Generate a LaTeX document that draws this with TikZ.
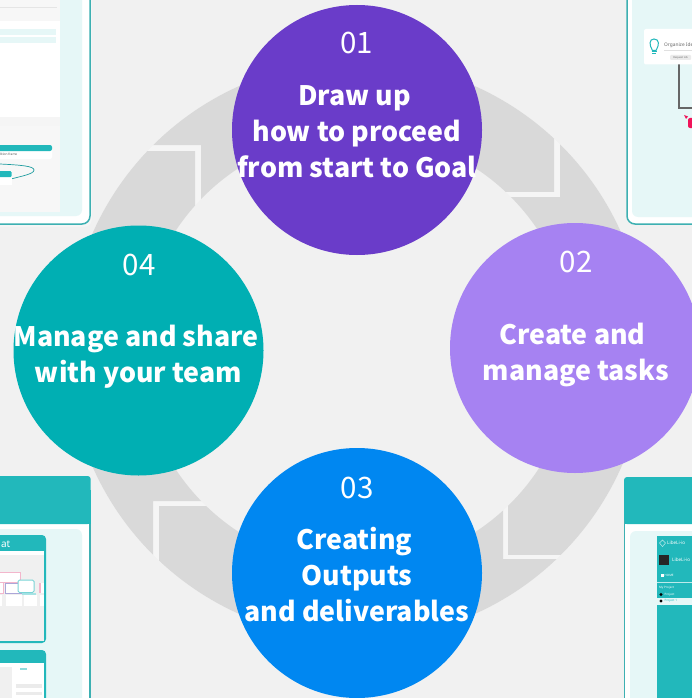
\documentclass[tikz,border=0pt]{standalone}
\usepackage{fontspec}
\setmainfont{Noto Sans CJK JP}
\newfontfamily\tinyfont{Noto Sans}
\definecolor{bgc}{HTML}{F1F1F1}
\definecolor{ringc}{HTML}{D9D9D9}
\definecolor{gapc}{HTML}{F5F5F5}
\definecolor{tealb}{HTML}{22B8BB}
\definecolor{tealbd}{HTML}{3DB0B2}
\definecolor{tealp}{HTML}{E6F7F7}
\definecolor{purp}{HTML}{6A3CC9}
\definecolor{lilac}{HTML}{A682F2}
\definecolor{bluec}{HTML}{0087F1}
\definecolor{greenc}{HTML}{00AFB3}
\definecolor{redc}{HTML}{F0145A}
\definecolor{pinkl}{HTML}{F3B6CC}
\definecolor{violl}{HTML}{ACA6D8}
\newcommand{\ringfill}[2]{\begin{scope}\clip #2;\fill[#1,even odd rule] (357,350) circle[radius=289] (357,350) circle[radius=217];\end{scope}}
\newcommand{\nudge}{\rule{5pt}{0pt}}
\tikzset{
  x=1pt,y=-1pt,
  bubble/.style={circle,minimum size=250pt,inner sep=0pt},
  numlabel/.style={text=white,font=\fontsize{29.5}{30}\selectfont,inner sep=0pt},
  title/.style={text=white,align=center,inner sep=0pt,font=\fontsize{26.8}{36}\selectfont\bfseries},
  small/.style={inner sep=0pt,font=\tinyfont\fontsize{3.2}{4}\selectfont},
}
\begin{document}
\begin{tikzpicture}
\useasboundingbox (0,0) rectangle (692,698);
\clip (0,0) rectangle (692,698);
\fill[bgc] (0,0) rectangle (692,698);
% ---- top-left card
\fill[black!4,rounded corners=8pt] (-20,-20) rectangle (92,227);
\filldraw[fill=white,draw=tealbd,line width=1.5pt,rounded corners=8pt] (-20,-20) rectangle (90,224);
\fill[tealp,rounded corners=6pt] (-20,-20) rectangle (82,216);
\fill[white!97!black] (-20,-20) rectangle (60,212);
\draw[black!10,line width=.5pt] (0,7) -- (57,7);
\fill[white] (-20,21) rectangle (60,117);
\fill[tealp] (-20,29) rectangle (56,35);
\fill[tealp] (-20,37) rectangle (56,43);
\fill[white!96!black] (-20,117) rectangle (60,126);
\fill[white,rounded corners=2pt] (-20,145) rectangle (52,159);
\fill[tealb,rounded corners=2pt] (-20,145) rectangle (52,151);
\node[small,anchor=east,text=black!65] (tlt) at (17.5,154.5) {dition frame};
\draw[tealb!85!black,line width=.7pt] (0,164) .. controls (20,165) and (34,166) .. (34,170) .. controls (34,174) and (22,176) .. (11,179);
\fill[white] (-20,171) rectangle (11.5,185);
\fill[tealb,rounded corners=1pt] (-20,171) rectangle (11.5,177);
% ---- top-right card
\filldraw[fill=white,draw=tealbd,line width=1.5pt,rounded corners=8pt] (627,-20) rectangle (720,224);
\fill[tealp,rounded corners=6pt] (632,-20) rectangle (720,217);
\draw[black!60,line width=1.6pt] (679,60) -- (679,108) -- (700,108);
\fill[white,rounded corners=2pt] (644,29) rectangle (720,64.5);
\node[inner sep=0pt,text=black!60,font=\tinyfont\bfseries\fontsize{4.8}{6}\selectfont,anchor=west] (org) at (664,45) {Organize Ide};
\draw[black!12,line width=.4pt] (664,50) -- (692,50);
\fill[black!8,rounded corners=1pt] (670,55) rectangle (691,60);
\node[small,text=black!60,font=\tinyfont\fontsize{2.6}{3}\selectfont] (req) at (680.5,57.5) {Request Lib};
\draw[tealb,line width=1pt] (652.5,50.5) .. controls (649,45) and (649,39) .. (654,39) .. controls (659.5,39) and (659.5,45) .. (656,50.5) -- cycle;
\draw[tealb,line width=1pt] (651.7,52) -- (656.7,52);
\fill[tealb] (652.3,53) rectangle (656,54.5);
\fill[redc] (684,115) -- (688,116.5) -- (686,119) -- cycle;
\fill[redc,rounded corners=2pt] (688,118) rectangle (698,128);
% ---- bottom-left card
\fill[white,rounded corners=3pt] (-20,476) rectangle (90,720);
\draw[tealbd,line width=1.5pt] (90,520) -- (90,720);
\fill[tealb,rounded corners=3pt] (-20,476) rectangle (90.7,524);
\fill[tealb] (-20,490) rectangle (90.7,523.5);
\fill[tealp,rounded corners=6pt] (-20,529) rectangle (82,720);
\fill[tealb,rounded corners=4pt] (-20,535) rectangle (46,643);
\fill[black!6] (-20,551) rectangle (44,641);
\fill[white] (-20,551) rectangle (44,555);
\node[inner sep=0pt,text=white,anchor=east,font=\tinyfont\bfseries\fontsize{10}{10}\selectfont] (fmt) at (10.5,544) {at};
\filldraw[fill=white,draw=pinkl,line width=.6pt] (-20,572) rectangle (20,582);
\filldraw[fill=white,draw=pinkl,line width=.6pt] (-20,582) rectangle (3,593);
\filldraw[fill=white,draw=violl,line width=.8pt] (5,583) rectangle (22,593);
\fill[tealb!40] (22,593) rectangle (36,595);
\filldraw[fill=white,draw=tealb!60,line width=1pt,rounded corners=1.5pt] (18,580) rectangle (34,592.5);
\fill[pinkl] (39,583) rectangle (40.5,593);
\fill[white] (41,583) rectangle (44,593);
\foreach \a/\b in {-10/2,6/22,24/36.5,40/44}{\fill[white] (\a,595) rectangle (\b,606);}
\fill[tealb,rounded corners=4pt] (-20,650) rectangle (46,720);
\fill[black!6] (-20,663) rectangle (44,720);
\fill[white] (-20,663) rectangle (44,667);
\fill[white] (12,667) rectangle (44,720);
\fill[tealb!50] (20,668) rectangle (27,669.5);
\fill[black!8] (16,684) rectangle (42,688);
\fill[black!8] (16,692) rectangle (42,695);
% ---- bottom-right card
\fill[white,rounded corners=3pt] (624,477) rectangle (720,720);
\fill[tealb,rounded corners=3pt] (624,477) rectangle (720,524);
\fill[tealb] (624,490) rectangle (720,524);
\draw[tealbd,line width=1.5pt] (624.7,520) -- (624.7,720);
\fill[tealp,rounded corners=6pt] (630,531) rectangle (720,720);
\fill[tealb] (657,536) rectangle (720,720);
\node[inner sep=0pt,text=white,anchor=west,font=\tinyfont\fontsize{4.6}{5}\selectfont] (lg) at (667,543) {LibeLi-io};
\draw[white!70!tealb,line width=.5pt] (662.5,540) -- (665.5,543) -- (662.5,546.5) -- (659.5,543) -- cycle;
\fill[black!85] (659,555) rectangle (669,565);
\node[inner sep=0pt,text=white,anchor=west,font=\tinyfont\bfseries\fontsize{4.6}{5}\selectfont] (lb) at (672,560) {LibeLi-io};
\fill[white] (661,574) rectangle (663.5,577);
\node[small,text=white,anchor=west,font=\tinyfont\bfseries\fontsize{3}{3}\selectfont] (hm) at (664.5,575.5) {HOME};
\draw[white!70!tealb,line width=.5pt] (657,582.5) -- (692,582.5);
\node[small,text=white,anchor=west,font=\tinyfont\bfseries\fontsize{3}{3}\selectfont] (mp) at (659,587.5) {My Project};
\fill[black] (661,594.5) circle[radius=1.7];
\node[small,text=white,anchor=west,font=\tinyfont\fontsize{3}{3}\selectfont] (p0) at (664.5,594.5) {Project};
\fill[tealp] (657,598) rectangle (692,604.5);
\fill[black] (661,601) circle[radius=1.7];
\node[small,text=tealb,anchor=west,font=\tinyfont\fontsize{3}{3}\selectfont] (p1) at (664.5,601) {Project 1};
% ---- ring: top-left
\ringfill{gapc}{(0,0) rectangle (357,350)}
\ringfill{ringc}{(0,151) rectangle (195,350)}
\ringfill{ringc}{(0,0) -- (357,0) -- (357,350) -- (201,350) -- (201,145) -- (0,145) -- cycle}
% top-right
\ringfill{gapc}{(357,0) rectangle (692,350)}
\ringfill{ringc}{(357,0) rectangle (554,191)}
\ringfill{ringc}{(692,0) -- (692,350) -- (357,350) -- (357,197) -- (560,197) -- (560,0) -- cycle}
% bottom-right
\ringfill{gapc}{(357,350) rectangle (692,698)}
\ringfill{ringc}{(508,350) rectangle (692,554)}
\ringfill{ringc}{(692,698) -- (357,698) -- (357,350) -- (503,350) -- (503,559) -- (692,559) -- cycle}
% bottom-left
\ringfill{gapc}{(0,350) rectangle (357,698)}
\ringfill{ringc}{(159,506) rectangle (357,698)}
\ringfill{ringc}{(0,350) -- (357,350) -- (357,501) -- (153,501) -- (153,698) -- (0,698) -- cycle}
% ---- circles
\node[bubble,fill=purp] (c1) at (357,130) {};
\node[bubble,fill=lilac] (c2) at (575,348) {};
\node[bubble,fill=bluec] (c3) at (357,573) {};
\node[bubble,fill=greenc] (c4) at (138.5,350.5) {};
\node[numlabel] (n1) at (356.5,43) {01};
\node[numlabel] (n2) at (576,262) {02};
\node[numlabel] (n3) at (357,488) {03};
\node[numlabel] (n4) at (139,265) {04};
\node[title] (t1) at (357,131.5) {Draw up\nudge\\how to proceed\\from start to Goal};
\node[title] (t2) at (576,354.5) {Create and\rule{7pt}{0pt}\\manage tasks};
\node[title] (t3) at (357,575) {Creating\nudge\\Outputs\\and deliverables};
\node[title] (t4) at (136,356.5) {Manage and share\\\rule{5pt}{0pt}with your team};
\end{tikzpicture}
\end{document}
